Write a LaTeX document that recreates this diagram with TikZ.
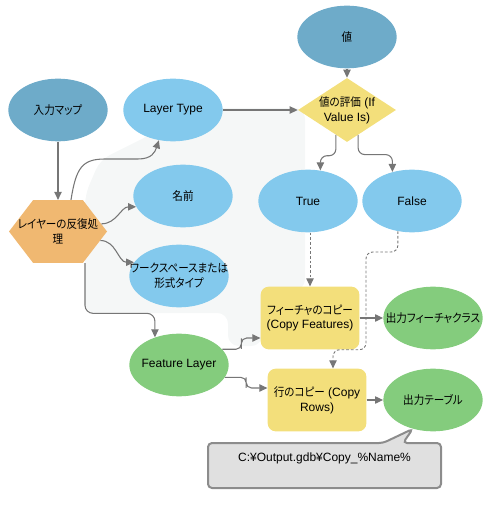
\documentclass[tikz,border=0pt]{standalone}
\usepackage{fontspec}
\setmainfont{Liberation Sans}
\newfontfamily\jpf[RawFeature=+palt,FakeStretch=0.9]{Noto Sans CJK JP}
\newcommand{\jt}[1]{{\jpf\fontsize{8.8}{11}\selectfont #1}}
\usetikzlibrary{shapes.geometric,shapes.symbols,arrows.meta,calc}
\definecolor{dblue}{HTML}{6EABC9}
\definecolor{lblue}{HTML}{83C9ED}
\definecolor{orng}{HTML}{F0B871}
\definecolor{ylw}{HTML}{F3DF7B}
\definecolor{grn}{HTML}{84CC7D}
\definecolor{bgrey}{HTML}{F5F7F7}
\definecolor{lgrey}{HTML}{767676}
\definecolor{callfill}{HTML}{E0E0E0}
\definecolor{calldraw}{HTML}{8C8C8C}
\begin{document}
\begin{tikzpicture}[x=0.75pt,y=-0.75pt,font=\fontsize{9}{11}\selectfont,
  ell/.style={ellipse,minimum width=74.5pt,minimum height=47pt,inner sep=0pt,draw=none},
  procbox/.style={rectangle,rounded corners=6pt,minimum width=74pt,minimum height=47pt,inner sep=0pt,align=center,fill=ylw},
  txt/.style={align=center,text=black,inner sep=0pt},
  conn/.style={draw=lgrey,line width=0.8pt,-{Triangle[length=6pt,width=5.5pt]}},
  dconn/.style={conn,dash pattern=on 2pt off 1.5pt,line width=0.7pt}]
\useasboundingbox (0,0) rectangle (497,505);
% iterator area
\fill[bgrey,rounded corners=8pt] (85,313) -- (85,195) -- (100,160) -- (150,135) -- (175,108) -- (305,108) -- (305,290) -- (262,290) -- (262,346) -- (228,346) -- (228,313) -- cycle;
% nodes
\node[ell,fill=dblue,label={[txt]center:\jt{入力マップ}}] (inmap) at (58,110) {};
\node[ell,fill=lblue,label={[txt]center:Layer Type}] (lt) at (173,110) {};
\node[ell,fill=dblue,label={[txt]center:\jt{値}}] (val) at (347,37) {};
\node[diamond,fill=ylw,minimum width=73.5pt,minimum height=48pt,inner sep=0pt,
  label={[txt]center:{\jt{値の評価} (If\\Value Is)}}] (dia) at (347,110) {};
\node[signal,signal to=west and east,signal pointer angle=105,fill=orng,
  minimum width=73.5pt,minimum height=47pt,inner sep=0pt,
  label={[txt]center:{\jt{レイヤーの反復処}\\\jt{理}}}] (hex) at (58,231.5) {};
\node[ell,fill=lblue,label={[txt]center:\jt{名前}}] (nm) at (183,196) {};
\node[ell,fill=lblue,label={[txt]center:{\jt{ワークスペースまたは}\\\jt{形式タイプ}}}] (ws) at (179,276) {};
\node[ell,fill=lblue,label={[txt]center:True}] (tru) at (308,201) {};
\node[ell,fill=lblue,label={[txt]center:False}] (fls) at (412,201) {};
\node[ell,fill=grn,label={[txt]center:Feature Layer}] (fl) at (179,365) {};
\node[procbox] (cf) at (310,318) {\jt{フィーチャのコピー}\\(Copy Features)};
\node[procbox] (rows) at (317,400) {\jt{行のコピー} (Copy\\Rows)};
\node[ell,fill=grn,label={[txt]center:\jt{出力フィーチャクラス}}] (ofc) at (433,318) {};
\node[ell,fill=grn,label={[txt]center:\jt{出力テーブル}}] (ot) at (433,400) {};
% connectors
\draw[conn] (inmap) -- (hex);
\draw[conn] ([xshift=9.75pt]hex.north) .. controls (76,168) and (82,159) .. (105,159) -- (138,159) .. controls (152,159) and (155,152) .. (lt.245);
\draw[conn] (hex.10) to[out=0,in=180] (nm.193);
\draw[conn] (hex.-12) to[out=0,in=180] (ws.163);
\draw[conn,rounded corners=6pt] ([xshift=20.25pt]hex.south) |- ([yshift=18pt]fl.131) -- (fl.131);
\draw[conn] (lt) -- (dia);
\draw[conn] (val) -- (dia);
\draw[conn,rounded corners=5pt] (dia.246) |- ([yshift=11pt]tru.68) -- (tru.68);
\draw[conn,rounded corners=5pt] (dia.294) |- ([yshift=13pt]fls.124) -- (fls.124);
\draw[dconn] (tru.south -| cf) -- (cf.north);
\draw[dconn,rounded corners=5pt] (fls.245) |- (366,252) |- ([xshift=12pt,yshift=14pt]rows.north) -- ([xshift=12pt]rows.north);
\draw[conn,rounded corners=4pt] (fl.20) -| ($(fl.20)!0.5!([yshift=-15pt]cf.west)$) |- ([yshift=-15pt]cf.west);
\draw[conn,rounded corners=4pt] (fl.-15) -| ($(fl.-15)!0.5!([yshift=9pt]rows.west)$) |- ([yshift=9pt]rows.west);
\draw[conn] (cf) -- (ofc);
\draw[conn] (rows) -- (ot);
% callout
\draw[fill=callfill,draw=calldraw,line width=1.5pt,rounded corners=3pt] (208,443) -- (383,443) -- (ot.235) -- (403,443) -- (441,443) -- (441,488) -- (208,488) -- cycle;
\node[txt] (co) at (324.5,458) {C:¥Output.gdb¥Copy\_\%Name\%};
\end{tikzpicture}
\end{document}
